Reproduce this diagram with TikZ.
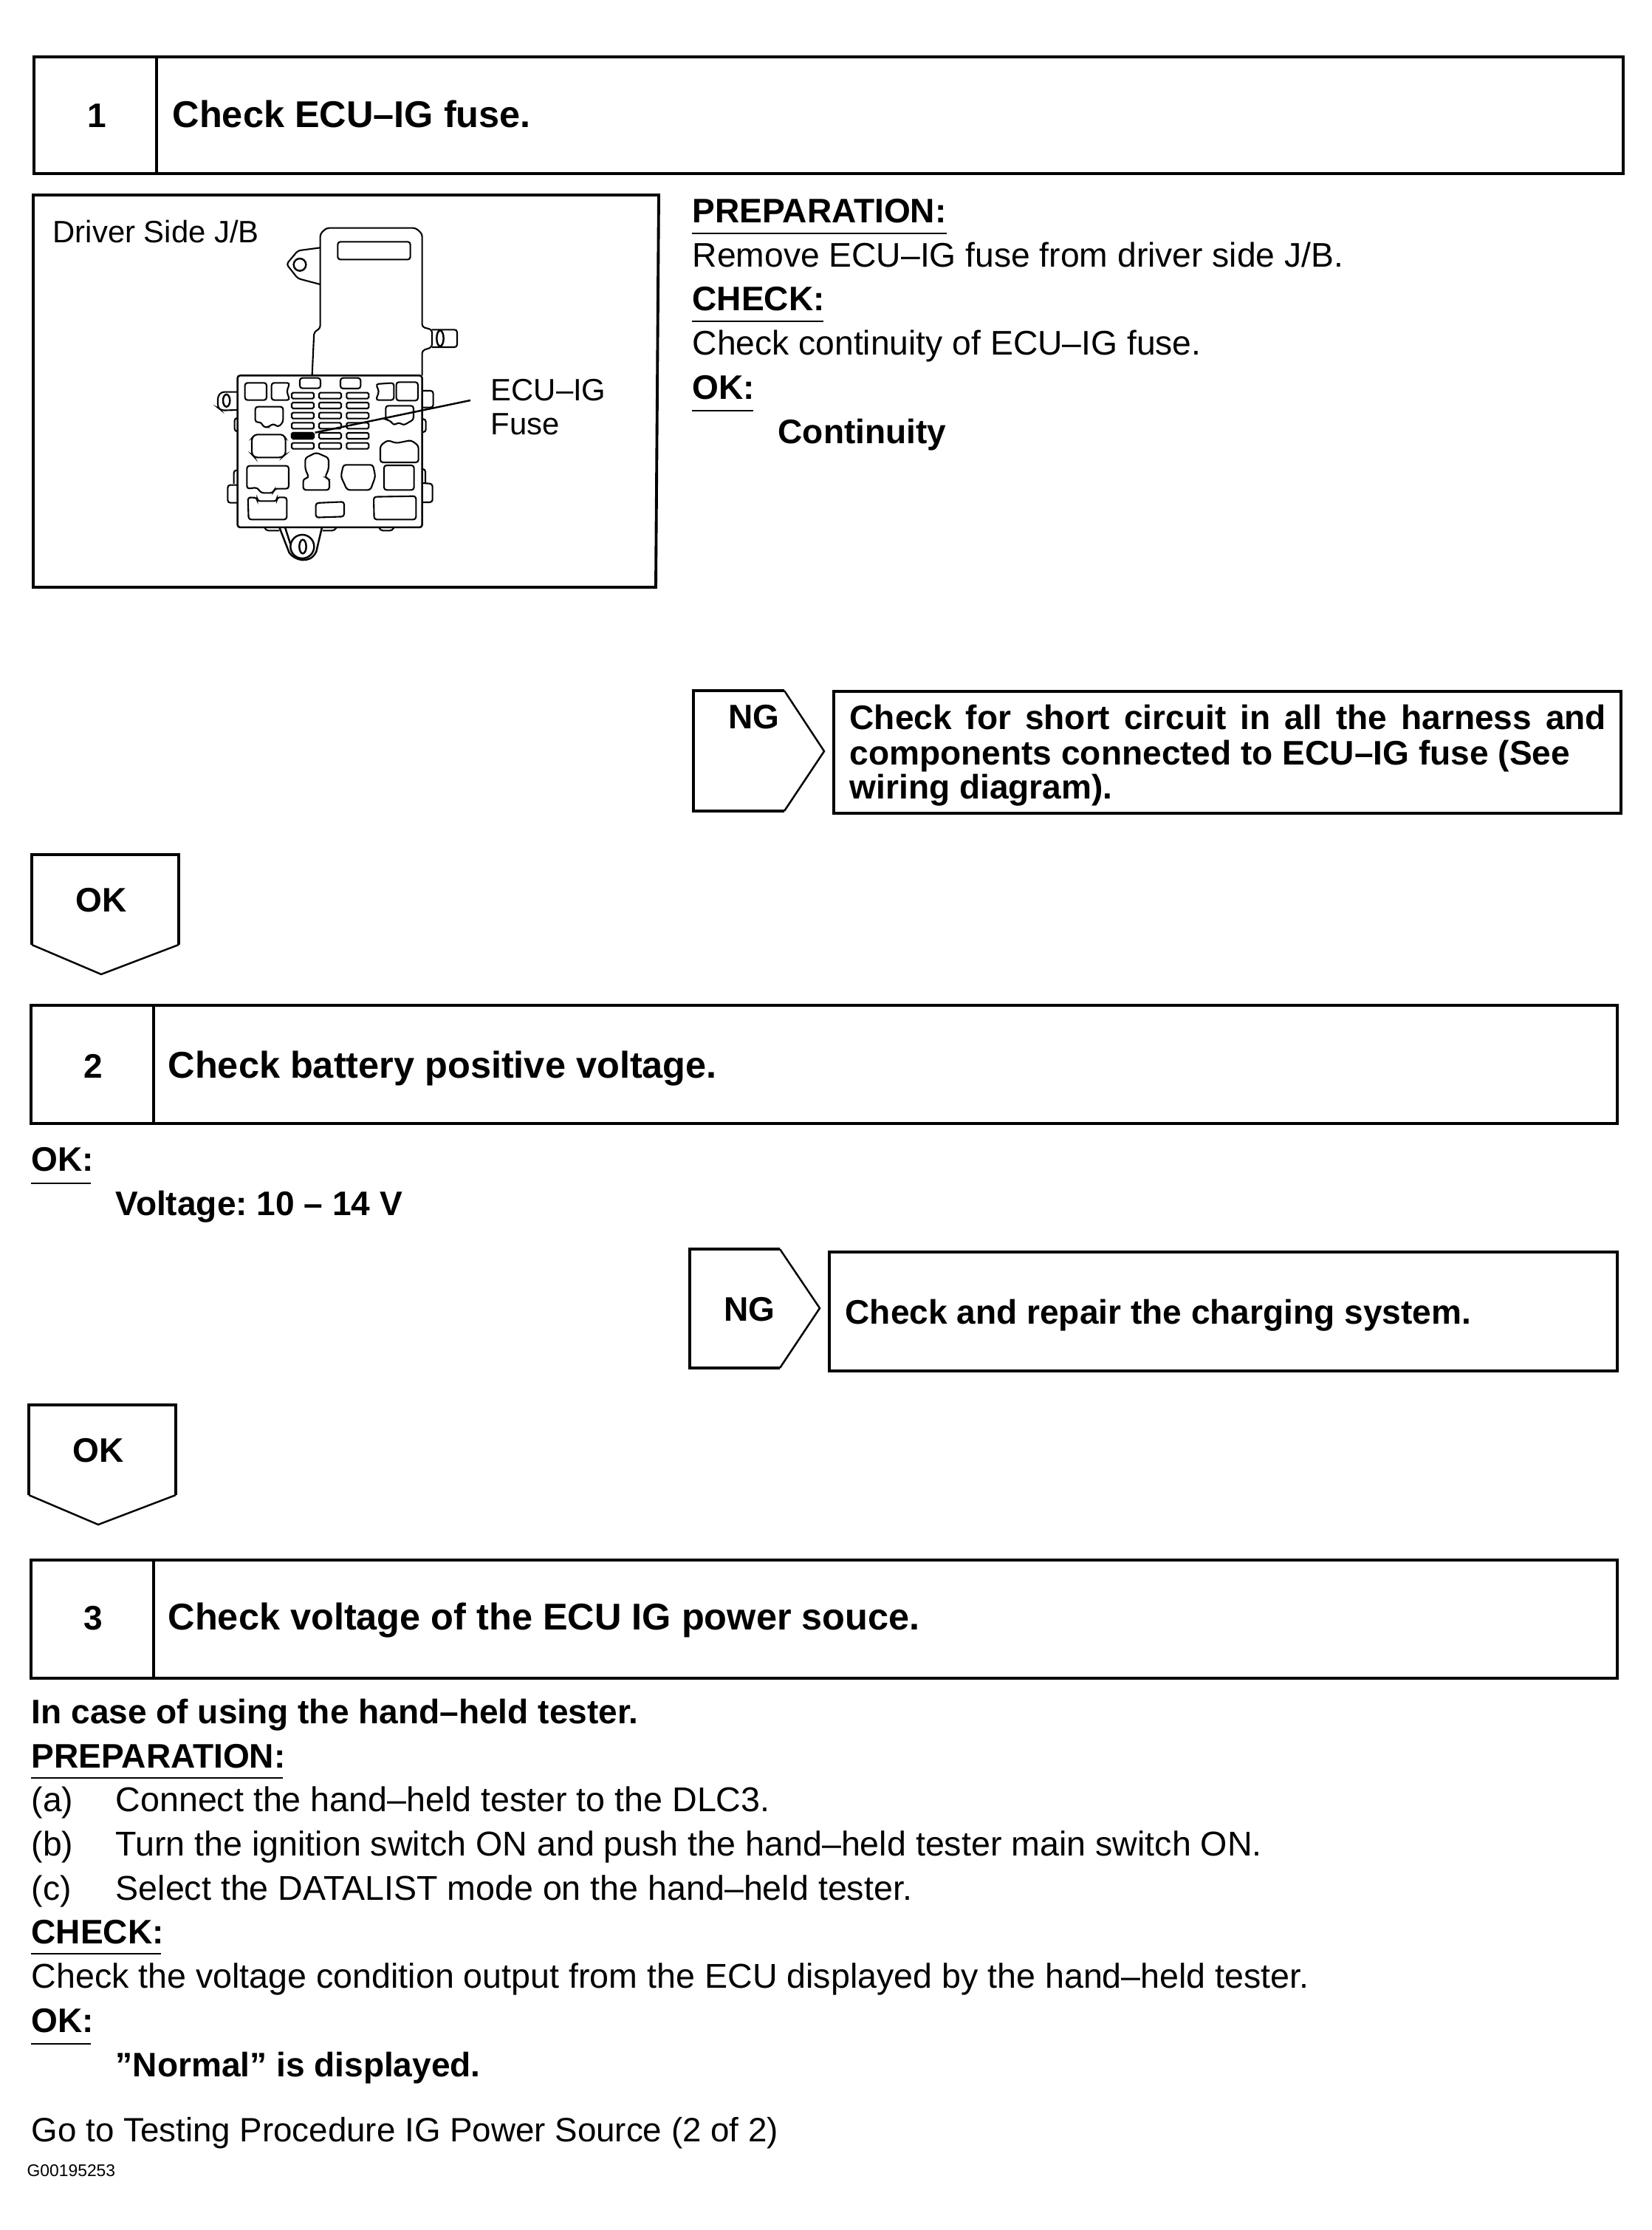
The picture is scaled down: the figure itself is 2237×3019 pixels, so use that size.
\documentclass[tikz,border=0pt]{standalone}
\usepackage{fontspec}
\setmainfont{Liberation Sans}
\usepackage{tikz}
\tikzset{
  thick line/.style={line width = 1.1pt},
  thin line/.style={line width = 0.7pt},
  part line/.style={line width = 0.6pt, rounded corners = 1pt},
  fuse line/.style={line width = 0.6pt, rounded corners = 0.5pt},
  txt/.style={anchor=base west, inner sep=0pt, font=\fontsize{13.15pt}{15pt}\selectfont\frenchspacing},
  txtw/.style={txt, font=\fontsize{13.25pt}{15pt}\selectfont\frenchspacing},
  txtb/.style={txt, font=\fontsize{13.1pt}{15pt}\selectfont\bfseries\frenchspacing},
  ttl/.style={txt, font=\fontsize{14.35pt}{16pt}\selectfont\bfseries\frenchspacing},
  lbl/.style={txt, font=\fontsize{11.9pt}{13pt}\selectfont\frenchspacing},
  num/.style={txtb, anchor=base},
  ul/.style={line width = 0.4pt}
}
\begin{document}
\begin{tikzpicture}[x=0.01cm,y=-0.01cm]
\useasboundingbox (0,0) rectangle (2237,3019);

% step 1
\draw[thick line] (46,77) rectangle (2198,235);
\draw[thick line] (212,77) -- (212,235);
\node[num] (num1) at (131,173) {1};
\node[ttl] (title1) at (233,173) {Check ECU–IG fuse.};

% fuse box picture
\draw[thick line] (45,264) -- (892,264) -- (888,795) -- (45,795) -- cycle;
\node[lbl] (jbname) at (71,329) {Driver Side J/B};
\node[lbl] (fusename1) at (664,543) {ECU–IG};
\node[lbl] (fusename2) at (664,589) {Fuse};

\begin{scope}[shift={(280,490)},scale=0.3333]
% upper part
\draw[part line] (428,52) -- (436,-121) -- (461,-137) -- (461,-520) -- (486,-544) -- (849,-544) -- (875,-520) -- (875,-142) -- (915,-131) -- (915,-60) -- (875,-46) -- (875,55);
\draw[part line] (915,-131) -- (1017,-131) -- (1017,-60) -- (915,-60);
\draw[thin line] (948,-96) ellipse (14 and 32);
\draw[part line] (532,-488) rectangle (827,-416);
\draw[part line] (461,-464) -- (370,-452) -- (324,-397) -- (370,-339) -- (461,-315);
\draw[thin line] (378,-395) circle (25);

% main block
\draw[thin line, rounded corners = 1pt] (125,55) rectangle (875,672);
\draw[part line] (155,85) -- (243,85) -- (243,155) -- (155,155) -- cycle;
\draw[part line] (263,85) -- (337,85) -- (325,120) -- (337,155) -- (263,155) -- cycle;
\draw[part line] (378,65) rectangle (462,107);
\draw[part line] (543,65) rectangle (625,108);
\draw[part line] (687,90) -- (760,85) -- (760,155) -- (687,155) -- (700,120) -- cycle;
\draw[part line] (770,82) -- (858,82) -- (858,157) -- (770,157) -- cycle;
\draw[part line] (197,182) -- (310,182) -- (310,245) -- (290,265) -- (270,250) -- (250,265) -- (230,265) -- (222,245) -- (197,245) -- cycle;
\draw[part line] (195,295) -- (310,295) -- (320,310) -- (320,375) -- (305,388) -- (195,388) -- (183,375) -- (183,310) -- cycle;
\draw[part line] (727,178) -- (840,178) -- (840,235) -- (820,245) -- (800,258) -- (780,245) -- (760,258) -- (745,238) -- (727,235) -- cycle;
\draw[part line] (705,340) -- (735,318) -- (770,330) -- (830,318) -- (860,340) -- (860,408) -- (705,408) -- cycle;
\draw[part line] (163,422) -- (333,422) -- (333,515) -- (275,515) -- (270,532) -- (220,532) -- (205,510) -- (163,515) -- cycle;
\draw[part line] (445,368) -- (495,390) -- (495,435) -- (480,470) -- (498,475) -- (498,520) -- (392,520) -- (392,475) -- (415,470) -- (400,435) -- (400,390) -- cycle;
\draw[part line] (555,418) -- (675,418) -- (685,465) -- (665,520) -- (570,520) -- (545,465) -- cycle;
\draw[part line] (720,420) -- (842,420) -- (842,520) -- (720,520) -- cycle;
\draw[part line] (167,550) -- (205,552) -- (205,565) -- (285,565) -- (285,550) -- (325,550) -- (325,640) -- (170,640) -- cycle;
\draw[part line] (443,573) -- (558,568) -- (558,628) -- (443,632) -- cycle;
\draw[part line] (678,548) -- (850,545) -- (850,640) -- (680,640) -- cycle;

% fuses
\foreach \fx in {345,456,568} {
  \foreach \fy in {137,177,218,259,300,341} {
    \draw[fuse line] (\fx,\fy-12) rectangle (\fx+90,\fy+12);
  }
}
\draw[fill=black,fuse line] (345,288) rectangle (435,312);
\coordinate (fusespot) at (440,287);
\coordinate (fusetext) at (1071,156);
\draw[thin line] (fusespot) -- (fusetext);

% side tabs
\draw[part line] (125,122) -- (60,122) -- (45,140) -- (45,185) -- (60,197) -- (125,195);
\draw[thin line] (80,157) ellipse (14 and 25);
\draw[part line] (875,117) -- (920,117) -- (920,185) -- (875,185);
\draw[part line] (125,228) -- (113,228) -- (113,282) -- (125,282);
\draw[part line] (875,232) -- (890,232) -- (890,285) -- (875,285);
\draw[part line] (125,440) -- (110,440) -- (110,495);
\draw[part line] (125,500) -- (85,500) -- (85,572) -- (125,572);
\draw[part line] (875,435) -- (888,435) -- (888,492);
\draw[part line] (875,492) -- (917,495) -- (917,570) -- (875,570);
\draw[part line] (235,672) -- (240,685) -- (295,685);
\draw[part line] (470,685) -- (520,685) -- (527,672);
\draw[part line] (700,672) -- (705,685) -- (755,685) -- (760,672);

% lug at the bottom
\draw[thin line] (295,672) -- (335,775) .. controls (355,805) and (420,825) .. (445,770) -- (468,672);
\draw[thin line] (318,672) -- (340,740);
\draw[thin line] (388,750) circle (48);
\draw[thin line] (390,750) ellipse (14 and 28);
\end{scope}

% preparation of step 1
\node[txtb] (prep1) at (937,302) {PREPARATION:};
\draw[ul] (937,316) -- (1282,316);
\node[txt] (prep1a) at (937,362) {Remove ECU–IG fuse from driver side J/B.};
\node[txtb] (check1) at (937,421) {CHECK:};
\draw[ul] (937,435) -- (1115,435);
\node[txt] (check1a) at (937,481) {Check continuity of ECU–IG fuse.};
\node[txtb] (ok1) at (937,541) {OK:};
\draw[ul] (937,556) -- (1020,556);
\node[txtb] (ok1a) at (1053,601) {Continuity};

% NG of step 1
\draw[thick line] (1062,935) -- (939,935) -- (939,1098) -- (1062,1098);
\draw[thin line] (1062,935) -- (1116,1017) -- (1062,1098);
\node[num] (ng1) at (1021,986) {NG};
\draw[thick line] (1129,936) rectangle (2195,1101);
\node[txtb] (ngtext1a) at (1150,987) {\makebox[4.03in][s]{Check for short circuit in all the harness and}};
\node[txtb] (ngtext1b) at (1150,1035) {components connected to ECU–IG fuse (See};
\node[txtb] (ngtext1c) at (1150,1081) {wiring diagram).};

% OK of step 1
\draw[thick line] (43,1279) -- (43,1157) -- (242,1157) -- (242,1279);
\draw[thin line] (43,1279) -- (137,1319) -- (242,1279);
\node[num] (okarrow1) at (137,1234) {OK};

% step 2
\draw[thick line] (42,1361) rectangle (2190,1521);
\draw[thick line] (208,1361) -- (208,1521);
\node[num] (num2) at (126,1459) {2};
\node[ttl] (title2) at (227,1459) {Check battery positive voltage.};
\node[txtb] (ok2) at (42,1585) {OK:};
\draw[ul] (42,1602) -- (123,1602);
\node[txtb] (ok2a) at (156,1645) {Voltage: 10 – 14 V};

% NG of step 2
\draw[thick line] (1056,1691) -- (934,1691) -- (934,1852) -- (1056,1852);
\draw[thin line] (1056,1691) -- (1110,1771) -- (1056,1852);
\node[num] (ng2) at (1015,1788) {NG};
\draw[thick line] (1123,1695) rectangle (2190,1856);
\node[txtb] (ngtext2) at (1144,1792) {Check and repair the charging system.};

% OK of step 2
\draw[thick line] (39,2024) -- (39,1902) -- (238,1902) -- (238,2024);
\draw[thin line] (39,2024) -- (133,2064) -- (238,2024);
\node[num] (okarrow2) at (133,1979) {OK};

% step 3
\draw[thick line] (42,2112) rectangle (2190,2272);
\draw[thick line] (208,2112) -- (208,2272);
\node[num] (num3) at (126,2206) {3};
\node[ttl] (title3) at (227,2206) {Check voltage of the ECU IG power souce.};

\node[txtb] (case3) at (42,2333) {In case of using the hand–held tester.};
\node[txtb] (prep3) at (42,2393) {PREPARATION:};
\draw[ul] (42,2407) -- (383,2407);
\node[txt] (steplabela) at (42,2452) {(a)};
\node[txtw] (stepa) at (156,2452) {Connect the hand–held tester to the DLC3.};
\node[txt] (steplabelb) at (42,2512) {(b)};
\node[txtw] (stepb) at (156,2512) {Turn the ignition switch ON and push the hand–held tester main switch ON.};
\node[txt] (steplabelc) at (42,2572) {(c)};
\node[txtw] (stepc) at (156,2572) {Select the DATALIST mode on the hand–held tester.};
\node[txtb] (check3) at (42,2631) {CHECK:};
\draw[ul] (42,2645) -- (218,2645);
\node[txtw] (check3a) at (42,2691) {Check the voltage condition output from the ECU displayed by the hand–held tester.};
\node[txtb] (ok3) at (42,2751) {OK:};
\draw[ul] (42,2767) -- (123,2767);
\node[txtb] (ok3a) at (156,2811) {”Normal” is displayed.};
\node[txt,font=\fontsize{13pt}{15pt}\selectfont] (goto) at (42,2899) {Go to Testing Procedure IG Power Source (2 of 2)};
\node[txt,font=\fontsize{6.5pt}{8pt}\selectfont] (figid) at (36,2946) {G00195253};
\end{tikzpicture}
\end{document}
